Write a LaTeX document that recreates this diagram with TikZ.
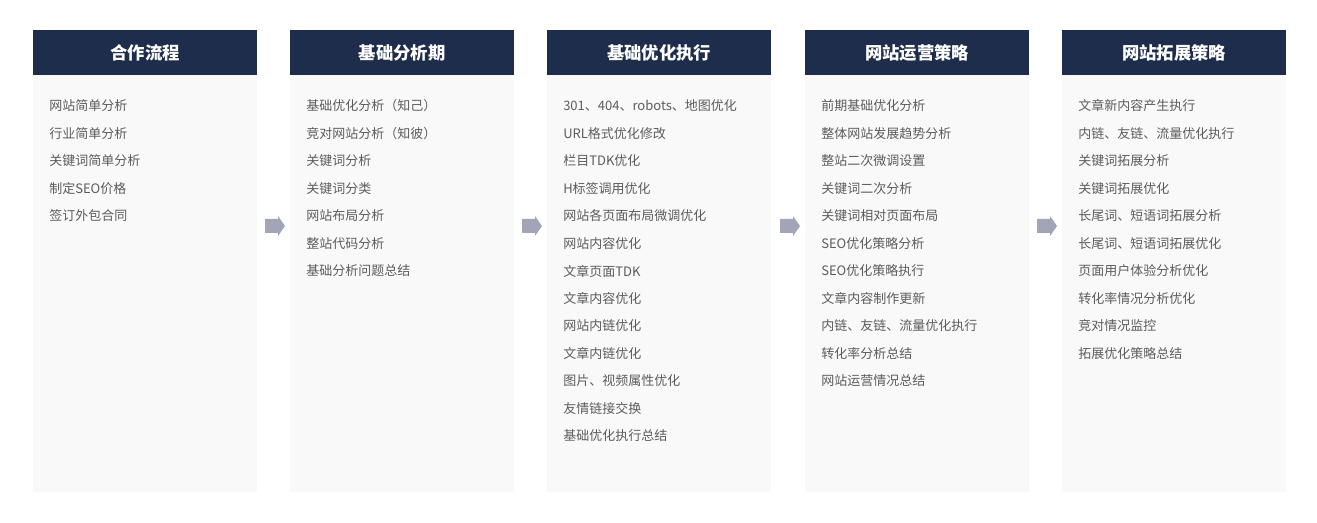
\documentclass[tikz,border=0pt]{standalone}
\usepackage{fontspec}
\setmainfont{Noto Sans CJK SC}
\usetikzlibrary{positioning}
\definecolor{hdr}{HTML}{1E2D4B}
\definecolor{panel}{HTML}{F9F9F9}
\definecolor{itemc}{HTML}{5C5C5C}
\definecolor{arrowc}{HTML}{A2A5B7}
\tikzset{
  hdrbox/.style={fill=hdr, minimum width=224*0.75pt, minimum height=45*0.75pt, inner sep=0pt, anchor=north west, text=white, font=\fontsize{13pt}{14pt}\selectfont\bfseries},
  panelbox/.style={fill=panel, minimum width=224*0.75pt, minimum height=417*0.75pt, inner sep=0pt, anchor=north west},
  itemtext/.style={anchor=west, inner sep=0pt, text=itemc, font=\fontsize{9.75pt}{11pt}\selectfont},
  arrowshape/.style={fill=arrowc, draw=none}
}
\begin{document}
\begin{tikzpicture}[x=0.75pt,y=-0.75pt]
\useasboundingbox (0,0) rectangle (1317,523);
\foreach \i/\x/\t in {1/33/合作流程,2/290/基础分析期,3/547/基础优化执行,4/805/网站运营策略,5/1062/网站拓展策略}{
  \node[panelbox] (p\i) at (\x,75) {};
  \node[hdrbox] (h\i) at (\x,30) {\t};
}
\foreach \j/\s in {1/网站简单分析,2/行业简单分析,3/关键词简单分析,4/制定SEO价格,5/签订外包合同}{
  \node[itemtext] (c1-\j) at (49,{106+27.5*(\j-1)}) {\s};
}
\foreach \j/\s in {1/基础优化分析（知己）,2/竞对网站分析（知彼）,3/关键词分析,4/关键词分类,5/网站布局分析,6/整站代码分析,7/基础分析问题总结}{
  \node[itemtext] (c2-\j) at (306,{106+27.5*(\j-1)}) {\s};
}
\foreach \j/\s in {1/301、404、robots、地图优化,2/URL格式优化修改,3/栏目TDK优化,4/H标签调用优化,5/网站各页面布局微调优化,6/网站内容优化,7/文章页面TDK,8/文章内容优化,9/网站内链优化,10/文章内链优化,11/图片、视频属性优化,12/友情链接交换,13/基础优化执行总结}{
  \node[itemtext] (c3-\j) at (563,{106+27.5*(\j-1)}) {\s};
}
\foreach \j/\s in {1/前期基础优化分析,2/整体网站发展趋势分析,3/整站二次微调设置,4/关键词二次分析,5/关键词相对页面布局,6/SEO优化策略分析,7/SEO优化策略执行,8/文章内容制作更新,9/内链、友链、流量优化执行,10/转化率分析总结,11/网站运营情况总结}{
  \node[itemtext] (c4-\j) at (821,{106+27.5*(\j-1)}) {\s};
}
\foreach \j/\s in {1/文章新内容产生执行,2/内链、友链、流量优化执行,3/关键词拓展分析,4/关键词拓展优化,5/长尾词、短语词拓展分析,6/长尾词、短语词拓展优化,7/页面用户体验分析优化,8/转化率情况分析优化,9/竞对情况监控,10/拓展优化策略总结}{
  \node[itemtext] (c5-\j) at (1078,{106+27.5*(\j-1)}) {\s};
}
\foreach \a in {265,522,780,1037}{
  \fill[arrowshape] (\a,219) -- (\a+13,219) -- (\a+13,216) -- (\a+20,226) -- (\a+13,236) -- (\a+13,233) -- (\a,233) -- cycle;
}
\end{tikzpicture}
\end{document}
